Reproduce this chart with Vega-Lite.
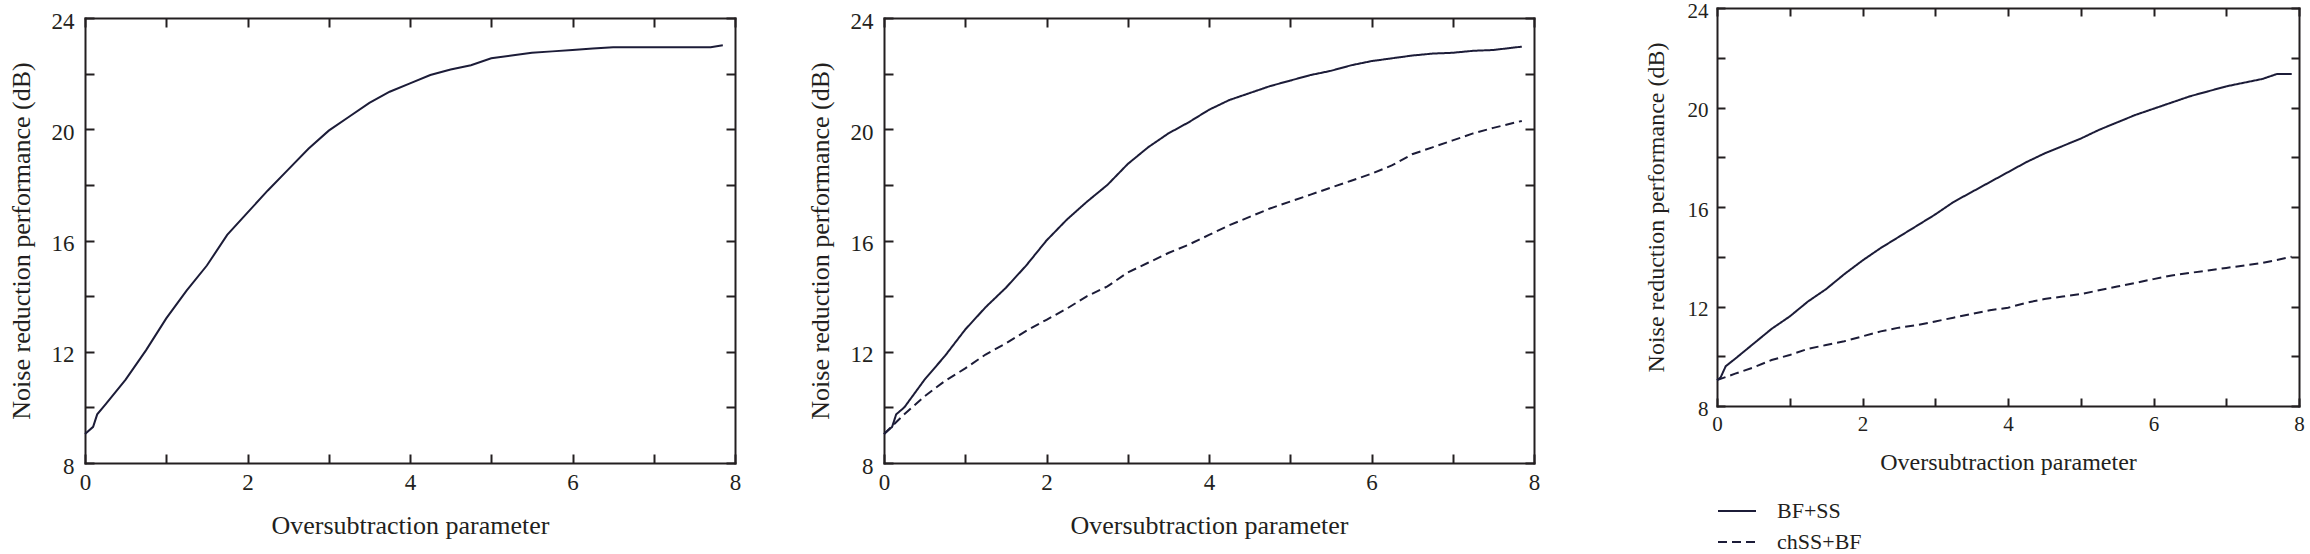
{
  "$schema": "https://vega.github.io/schema/vega-lite/v6.json",
  "padding": {"left": 8, "top": 0, "right": 0, "bottom": 0},
  "autosize": {"type": "pad"},
  "background": "white",
  "config": {
    "font": "Liberation Serif",
    "view": {"stroke": null},
    "axis": {
      "labelFont": "Liberation Serif", "titleFont": "Liberation Serif",
      "labelFontSize": 23, "titleFontSize": 26, "titleFontWeight": "normal",
      "labelColor": "#231f20", "titleColor": "#231f20", "tickColor": "#231f20",
      "tickWidth": 2, "grid": false, "domain": true, "domainColor": "#231f20", "domainWidth": 2, "domainCap": "square",
      "labelFlush": false, "labelOverlap": false, "labelBound": false
    },
    "legend": {
      "labelFont": "Liberation Serif", "labelFontSize": 22, "labelColor": "#231f20"
    }
  },
  "resolve": {"scale": {"strokeDash": "independent"}, "legend": {"strokeDash": "independent"}},
  "datasets": {
    "p1": [
      {"x": 0, "y": 9.04}, {"x": 0.1, "y": 9.3}, {"x": 0.15, "y": 9.75}, {"x": 0.25, "y": 10.1},
      {"x": 0.5, "y": 11.0}, {"x": 0.75, "y": 12.05}, {"x": 1.0, "y": 13.2}, {"x": 1.25, "y": 14.2},
      {"x": 1.5, "y": 15.1}, {"x": 1.75, "y": 16.2}, {"x": 2.0, "y": 17.0}, {"x": 2.25, "y": 17.8},
      {"x": 2.5, "y": 18.55}, {"x": 2.75, "y": 19.3}, {"x": 3.0, "y": 19.95}, {"x": 3.25, "y": 20.45},
      {"x": 3.5, "y": 20.95}, {"x": 3.75, "y": 21.35}, {"x": 4.0, "y": 21.65}, {"x": 4.25, "y": 21.95},
      {"x": 4.5, "y": 22.15}, {"x": 4.75, "y": 22.3}, {"x": 5.0, "y": 22.55}, {"x": 5.25, "y": 22.65},
      {"x": 5.5, "y": 22.75}, {"x": 5.75, "y": 22.8}, {"x": 6.0, "y": 22.85}, {"x": 6.25, "y": 22.9},
      {"x": 6.5, "y": 22.95}, {"x": 7.0, "y": 22.95}, {"x": 7.5, "y": 22.95}, {"x": 7.7, "y": 22.95},
      {"x": 7.85, "y": 23.02}
    ],
    "p2": [
      {"s": "BF+SS", "x": 0, "y": 9.04}, {"s": "BF+SS", "x": 0.1, "y": 9.3}, {"s": "BF+SS", "x": 0.15, "y": 9.75},
      {"s": "BF+SS", "x": 0.25, "y": 10.0}, {"s": "BF+SS", "x": 0.5, "y": 11.0}, {"s": "BF+SS", "x": 0.75, "y": 11.85},
      {"s": "BF+SS", "x": 1.0, "y": 12.8}, {"s": "BF+SS", "x": 1.25, "y": 13.6}, {"s": "BF+SS", "x": 1.5, "y": 14.3},
      {"s": "BF+SS", "x": 1.75, "y": 15.1}, {"s": "BF+SS", "x": 2.0, "y": 16.0}, {"s": "BF+SS", "x": 2.25, "y": 16.75},
      {"s": "BF+SS", "x": 2.5, "y": 17.4}, {"s": "BF+SS", "x": 2.75, "y": 18.0}, {"s": "BF+SS", "x": 3.0, "y": 18.75},
      {"s": "BF+SS", "x": 3.25, "y": 19.35}, {"s": "BF+SS", "x": 3.5, "y": 19.85}, {"s": "BF+SS", "x": 3.75, "y": 20.25},
      {"s": "BF+SS", "x": 4.0, "y": 20.7}, {"s": "BF+SS", "x": 4.25, "y": 21.05}, {"s": "BF+SS", "x": 4.5, "y": 21.3},
      {"s": "BF+SS", "x": 4.75, "y": 21.55}, {"s": "BF+SS", "x": 5.0, "y": 21.75}, {"s": "BF+SS", "x": 5.25, "y": 21.95},
      {"s": "BF+SS", "x": 5.5, "y": 22.1}, {"s": "BF+SS", "x": 5.75, "y": 22.3}, {"s": "BF+SS", "x": 6.0, "y": 22.45},
      {"s": "BF+SS", "x": 6.25, "y": 22.55}, {"s": "BF+SS", "x": 6.5, "y": 22.65}, {"s": "BF+SS", "x": 6.75, "y": 22.72},
      {"s": "BF+SS", "x": 7.0, "y": 22.75}, {"s": "BF+SS", "x": 7.25, "y": 22.82}, {"s": "BF+SS", "x": 7.5, "y": 22.85},
      {"s": "BF+SS", "x": 7.85, "y": 22.97},
      {"s": "chSS+BF", "x": 0, "y": 9.04}, {"s": "chSS+BF", "x": 0.25, "y": 9.75}, {"s": "chSS+BF", "x": 0.5, "y": 10.4},
      {"s": "chSS+BF", "x": 0.75, "y": 10.95}, {"s": "chSS+BF", "x": 1.0, "y": 11.4}, {"s": "chSS+BF", "x": 1.25, "y": 11.9},
      {"s": "chSS+BF", "x": 1.5, "y": 12.3}, {"s": "chSS+BF", "x": 1.75, "y": 12.75}, {"s": "chSS+BF", "x": 2.0, "y": 13.15},
      {"s": "chSS+BF", "x": 2.25, "y": 13.55}, {"s": "chSS+BF", "x": 2.5, "y": 14.0}, {"s": "chSS+BF", "x": 2.75, "y": 14.35},
      {"s": "chSS+BF", "x": 3.0, "y": 14.85}, {"s": "chSS+BF", "x": 3.25, "y": 15.2}, {"s": "chSS+BF", "x": 3.5, "y": 15.55},
      {"s": "chSS+BF", "x": 3.75, "y": 15.85}, {"s": "chSS+BF", "x": 4.0, "y": 16.2}, {"s": "chSS+BF", "x": 4.25, "y": 16.55},
      {"s": "chSS+BF", "x": 4.5, "y": 16.85}, {"s": "chSS+BF", "x": 4.75, "y": 17.15}, {"s": "chSS+BF", "x": 5.0, "y": 17.4},
      {"s": "chSS+BF", "x": 5.25, "y": 17.65}, {"s": "chSS+BF", "x": 5.5, "y": 17.9}, {"s": "chSS+BF", "x": 5.75, "y": 18.15},
      {"s": "chSS+BF", "x": 6.0, "y": 18.4}, {"s": "chSS+BF", "x": 6.25, "y": 18.7}, {"s": "chSS+BF", "x": 6.5, "y": 19.1},
      {"s": "chSS+BF", "x": 6.75, "y": 19.35}, {"s": "chSS+BF", "x": 7.0, "y": 19.6}, {"s": "chSS+BF", "x": 7.25, "y": 19.85},
      {"s": "chSS+BF", "x": 7.5, "y": 20.05}, {"s": "chSS+BF", "x": 7.85, "y": 20.3}
    ],
    "p3": [
      {"s": "BF+SS", "x": 0, "y": 9.04}, {"s": "BF+SS", "x": 0.05, "y": 9.15}, {"s": "BF+SS", "x": 0.12, "y": 9.6},
      {"s": "BF+SS", "x": 0.25, "y": 9.9}, {"s": "BF+SS", "x": 0.5, "y": 10.5}, {"s": "BF+SS", "x": 0.75, "y": 11.1},
      {"s": "BF+SS", "x": 1.0, "y": 11.6}, {"s": "BF+SS", "x": 1.25, "y": 12.2}, {"s": "BF+SS", "x": 1.5, "y": 12.7},
      {"s": "BF+SS", "x": 1.75, "y": 13.3}, {"s": "BF+SS", "x": 2.0, "y": 13.85}, {"s": "BF+SS", "x": 2.25, "y": 14.35},
      {"s": "BF+SS", "x": 2.5, "y": 14.8}, {"s": "BF+SS", "x": 2.75, "y": 15.25}, {"s": "BF+SS", "x": 3.0, "y": 15.7},
      {"s": "BF+SS", "x": 3.25, "y": 16.2}, {"s": "BF+SS", "x": 3.5, "y": 16.6}, {"s": "BF+SS", "x": 3.75, "y": 17.0},
      {"s": "BF+SS", "x": 4.0, "y": 17.4}, {"s": "BF+SS", "x": 4.25, "y": 17.8}, {"s": "BF+SS", "x": 4.5, "y": 18.15},
      {"s": "BF+SS", "x": 4.75, "y": 18.45}, {"s": "BF+SS", "x": 5.0, "y": 18.75}, {"s": "BF+SS", "x": 5.25, "y": 19.1},
      {"s": "BF+SS", "x": 5.5, "y": 19.4}, {"s": "BF+SS", "x": 5.75, "y": 19.7}, {"s": "BF+SS", "x": 6.0, "y": 19.95},
      {"s": "BF+SS", "x": 6.25, "y": 20.2}, {"s": "BF+SS", "x": 6.5, "y": 20.45}, {"s": "BF+SS", "x": 6.75, "y": 20.65},
      {"s": "BF+SS", "x": 7.0, "y": 20.85}, {"s": "BF+SS", "x": 7.25, "y": 21.0}, {"s": "BF+SS", "x": 7.5, "y": 21.15},
      {"s": "BF+SS", "x": 7.7, "y": 21.35}, {"s": "BF+SS", "x": 7.9, "y": 21.35},
      {"s": "chSS+BF", "x": 0, "y": 9.04}, {"s": "chSS+BF", "x": 0.25, "y": 9.3}, {"s": "chSS+BF", "x": 0.5, "y": 9.55},
      {"s": "chSS+BF", "x": 0.75, "y": 9.85}, {"s": "chSS+BF", "x": 1.0, "y": 10.05}, {"s": "chSS+BF", "x": 1.25, "y": 10.3},
      {"s": "chSS+BF", "x": 1.5, "y": 10.45}, {"s": "chSS+BF", "x": 1.75, "y": 10.6}, {"s": "chSS+BF", "x": 2.0, "y": 10.8},
      {"s": "chSS+BF", "x": 2.25, "y": 11.0}, {"s": "chSS+BF", "x": 2.5, "y": 11.15}, {"s": "chSS+BF", "x": 2.75, "y": 11.25},
      {"s": "chSS+BF", "x": 3.0, "y": 11.4}, {"s": "chSS+BF", "x": 3.25, "y": 11.55}, {"s": "chSS+BF", "x": 3.5, "y": 11.7},
      {"s": "chSS+BF", "x": 3.75, "y": 11.85}, {"s": "chSS+BF", "x": 4.0, "y": 11.95}, {"s": "chSS+BF", "x": 4.25, "y": 12.15},
      {"s": "chSS+BF", "x": 4.5, "y": 12.3}, {"s": "chSS+BF", "x": 4.75, "y": 12.4}, {"s": "chSS+BF", "x": 5.0, "y": 12.5},
      {"s": "chSS+BF", "x": 5.25, "y": 12.65}, {"s": "chSS+BF", "x": 5.5, "y": 12.8}, {"s": "chSS+BF", "x": 5.75, "y": 12.95},
      {"s": "chSS+BF", "x": 6.0, "y": 13.1}, {"s": "chSS+BF", "x": 6.25, "y": 13.25}, {"s": "chSS+BF", "x": 6.5, "y": 13.35},
      {"s": "chSS+BF", "x": 6.75, "y": 13.45}, {"s": "chSS+BF", "x": 7.0, "y": 13.55}, {"s": "chSS+BF", "x": 7.25, "y": 13.65},
      {"s": "chSS+BF", "x": 7.5, "y": 13.75}, {"s": "chSS+BF", "x": 7.9, "y": 14.0}
    ]
  },
  "spacing": 66,
  "hconcat": [
    {
      "width": 650, "height": 455,
      "data": {"name": "p1"},
      "layer": [
        {
          "mark": {"type": "line", "color": "#1c1c38", "strokeWidth": 2},
          "encoding": {
            "x": {"field": "x", "type": "quantitative", "scale": {"domain": [0, 8], "nice": false},
              "axis": {"orient": "bottom", "values": [0, 1, 2, 3, 4, 5, 6, 7, 8], "labelExpr": "datum.value % 2 === 0 ? datum.label : ''",
                "tickSize": -9, "labelPadding": 17, "title": "Oversubtraction parameter", "titlePadding": 18}},
            "y": {"field": "y", "type": "quantitative", "scale": {"domain": [8, 24], "range": [455, 10], "nice": false, "zero": false},
              "axis": {"orient": "left", "values": [8, 10, 12, 14, 16, 18, 20, 22, 24], "labelExpr": "(datum.value - 8) % 4 === 0 ? datum.label : ''",
                "tickSize": -9, "labelPadding": 20, "labelOffset": 3, "title": "Noise reduction performance (dB)", "titlePadding": 17}}
          }
        },
        {
          "mark": {"type": "point", "opacity": 0},
          "encoding": {
            "x": {"field": "x", "type": "quantitative", "scale": {"domain": [0, 8], "nice": false},
              "axis": {"orient": "top", "offset": -10, "values": [0, 1, 2, 3, 4, 5, 6, 7, 8], "labels": false, "tickSize": -9, "title": null}},
            "y": {"field": "y", "type": "quantitative", "scale": {"domain": [8, 24], "range": [455, 10], "nice": false, "zero": false},
              "axis": {"orient": "right", "values": [8, 10, 12, 14, 16, 18, 20, 22, 24], "labels": false, "tickSize": -9, "title": null}}
          }
        }
      ],
      "resolve": {"axis": {"x": "independent", "y": "independent"}}
    },
    {
      "width": 650, "height": 455,
      "data": {"name": "p2"},
      "layer": [
        {
          "mark": {"type": "line", "color": "#1c1c38", "strokeWidth": 2},
          "encoding": {
            "x": {"field": "x", "type": "quantitative", "scale": {"domain": [0, 8], "nice": false},
              "axis": {"orient": "bottom", "values": [0, 1, 2, 3, 4, 5, 6, 7, 8], "labelExpr": "datum.value % 2 === 0 ? datum.label : ''",
                "tickSize": -9, "labelPadding": 17, "title": "Oversubtraction parameter", "titlePadding": 18}},
            "y": {"field": "y", "type": "quantitative", "scale": {"domain": [8, 24], "range": [455, 10], "nice": false, "zero": false},
              "axis": {"orient": "left", "values": [8, 10, 12, 14, 16, 18, 20, 22, 24], "labelExpr": "(datum.value - 8) % 4 === 0 ? datum.label : ''",
                "tickSize": -9, "labelPadding": 20, "labelOffset": 3, "title": "Noise reduction performance (dB)", "titlePadding": 17}},
            "strokeDash": {"field": "s", "type": "nominal", "scale": {"domain": ["BF+SS", "chSS+BF"], "range": [[1, 0], [9, 5]]}, "legend": null}
          }
        },
        {
          "mark": {"type": "point", "opacity": 0},
          "encoding": {
            "x": {"field": "x", "type": "quantitative", "scale": {"domain": [0, 8], "nice": false},
              "axis": {"orient": "top", "offset": -10, "values": [0, 1, 2, 3, 4, 5, 6, 7, 8], "labels": false, "tickSize": -9, "title": null}},
            "y": {"field": "y", "type": "quantitative", "scale": {"domain": [8, 24], "range": [455, 10], "nice": false, "zero": false},
              "axis": {"orient": "right", "values": [8, 10, 12, 14, 16, 18, 20, 22, 24], "labels": false, "tickSize": -9,
                "title": " ", "titleFontSize": 1, "titlePadding": 42}}
          }
        }
      ],
      "resolve": {"axis": {"x": "independent", "y": "independent"}}
    },
    {
      "width": 582, "height": 398,
      "data": {"name": "p3"},
      "layer": [
        {
          "mark": {"type": "line", "color": "#1c1c38", "strokeWidth": 2},
          "encoding": {
            "x": {"field": "x", "type": "quantitative", "scale": {"domain": [0, 8], "nice": false},
              "axis": {"orient": "bottom", "values": [0, 1, 2, 3, 4, 5, 6, 7, 8], "labelExpr": "datum.value % 2 === 0 ? datum.label : ''",
                "tickSize": -8, "labelPadding": 15, "labelFontSize": 21, "titleFontSize": 24, "title": "Oversubtraction parameter", "titlePadding": 16}},
            "y": {"field": "y", "type": "quantitative", "scale": {"domain": [8, 24], "nice": false, "zero": false},
              "axis": {"orient": "left", "values": [8, 10, 12, 14, 16, 18, 20, 22, 24], "labelExpr": "(datum.value - 8) % 4 === 0 ? datum.label : ''",
                "tickSize": -8, "labelPadding": 17, "labelOffset": 3, "labelFontSize": 21, "titleFontSize": 24, "title": "Noise reduction performance (dB)", "titlePadding": 19}},
            "strokeDash": {"field": "s", "type": "nominal", "title": null,
              "scale": {"domain": ["BF+SS", "chSS+BF"], "range": [[1, 0], [9, 5]]},
              "legend": {"orient": "none", "legendX": 0, "legendY": 483, "direction": "vertical", "symbolType": "stroke",
                "symbolSize": 1444, "symbolStrokeWidth": 2, "symbolStrokeColor": "#1c1c38", "labelOffset": 20, "padding": 0, "rowPadding": -9}}
          }
        },
        {
          "mark": {"type": "point", "opacity": 0},
          "encoding": {
            "x": {"field": "x", "type": "quantitative", "scale": {"domain": [0, 8], "nice": false},
              "axis": {"orient": "top", "values": [0, 1, 2, 3, 4, 5, 6, 7, 8], "labels": false, "tickSize": -8, "title": null}},
            "y": {"field": "y", "type": "quantitative", "scale": {"domain": [8, 24], "nice": false, "zero": false},
              "axis": {"orient": "right", "values": [8, 10, 12, 14, 16, 18, 20, 22, 24], "labels": false, "tickSize": -8, "title": null}}
          }
        }
      ],
      "resolve": {"axis": {"x": "independent", "y": "independent"}}
    }
  ]
}
